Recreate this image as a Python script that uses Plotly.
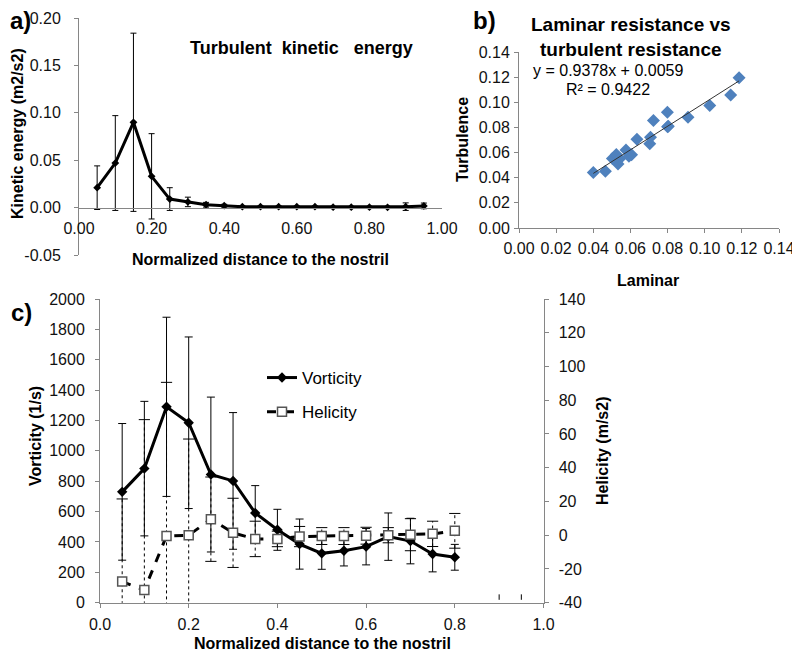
import numpy as np
import plotly.graph_objects as go

# ---------------- data ----------------
# panel a: turbulent kinetic energy
ke_x = [0.05, 0.10, 0.15, 0.20, 0.25, 0.30, 0.35, 0.40, 0.45, 0.50,
        0.55, 0.60, 0.65, 0.70, 0.75, 0.80, 0.85, 0.90, 0.95]
ke_val = [0.021, 0.047, 0.090, 0.033, 0.009, 0.006, 0.003, 0.002, 0.001, 0.001,
          0.001, 0.001, 0.001, 0.0005, 0.0005, 0.0005, 0.0003, 0.001, 0.0018]
ke_err = [0.023, 0.050, 0.094, 0.045, 0.012, 0.005, 0.0025, 0.0015, 0.0008, 0.0005,
          0.0005, 0.0005, 0.0005, 0.0005, 0.0005, 0.0005, 0.0005, 0.004, 0.003]
ke_yticks = [-0.05, 0.00, 0.05, 0.10, 0.15, 0.20]
ke_yticktext = ["-0.05", "0.00", "0.05", "0.10", "0.15", "0.20"]

# panel b: laminar vs turbulent resistance
lam = [0.0400, 0.0465, 0.0503, 0.0524, 0.0533, 0.0542, 0.0576, 0.0592, 0.0606, 0.0635,
       0.0704, 0.0708, 0.0724, 0.0799, 0.0800, 0.0804, 0.0910, 0.1027, 0.1140, 0.1185]
turb = [0.0442, 0.0452, 0.0553, 0.0585, 0.0510, 0.0550, 0.0620, 0.0570, 0.0583, 0.0706,
        0.0670, 0.0722, 0.0855, 0.0921, 0.0806, 0.0810, 0.0880, 0.0975, 0.1057, 0.1195]
fit_slope = 0.9378
fit_intercept = 0.0059
fit_r2 = 0.9422

# panel c: vorticity and helicity
vh_x = [0.05, 0.10, 0.15, 0.20, 0.25, 0.30, 0.35, 0.40,
        0.45, 0.50, 0.55, 0.60, 0.65, 0.70, 0.75, 0.80]
vort = [730, 883, 1290, 1185, 844, 802, 591, 480,
        386, 325, 342, 369, 435, 406, 321, 299]
vort_err = [450, 443, 590, 565, 510, 450, 180, 135,
            165, 105, 100, 120, 156, 150, 118, 85]
heli = [-27.5, -32.5, -0.4, 0.0, 9.5, 1.4, -2.2, -2.2,
        -0.8, -0.5, -0.5, -0.3, 0.0, 0.3, 0.8, 2.6]
heli_err = [49, 101, 91, 57, 25, 20.5, 10.5, 4.6,
            6, 5, 5, 5, 4.5, 9.5, 7.5, 10.3]
tail_x = [0.90, 0.95]
tail_vort = [37, 37]
tail_err = [18, 18]
heli_yticks = [-40, -20, 0, 20, 40, 60, 80, 100, 120, 140]
heli_yticktext = ["-40", "-20", "0", "20", "40", "60", "80", "100", "120", "140"]

# ---------------- layout helpers ----------------
OFFX, OFFY = 8, 8            # page body margin
W, H = 800, 648
def fx(px):
    return (px - OFFX) / W
def fy(py):
    return 1 - (py - OFFY) / H

FONT = "Liberation Sans, Arial, sans-serif"
AX = "#868686"
TICKF = dict(family=FONT, size=16, color="#111")

fig = go.Figure()

# ---- panel a ----
fig.add_trace(go.Scatter(
    x=ke_x, y=ke_val, mode="lines+markers", xaxis="x", yaxis="y",
    line=dict(color="black", width=3), marker=dict(symbol="diamond", size=6, color="black"),
    error_y=dict(type="data", array=ke_err, visible=True, color="black", thickness=1, width=3),
    showlegend=False))

# ---- panel b ----
fig.add_trace(go.Scatter(
    x=lam, y=turb, mode="markers", xaxis="x2", yaxis="y2",
    marker=dict(symbol="diamond", size=10, color="#4F81BD"), showlegend=False))
fit_x = np.array([min(lam), max(lam)])
fig.add_trace(go.Scatter(
    x=fit_x, y=fit_slope * fit_x + fit_intercept, mode="lines", xaxis="x2", yaxis="y2",
    line=dict(color="#333", width=1), showlegend=False))

# ---- panel c ----
hx = np.array(vh_x)
hy = np.array(heli)
he = np.array(heli_err)
seg_x, seg_y = [], []
for xi, yi, ei in zip(hx, hy, he):
    seg_x += [xi, xi, None]
    seg_y += [yi - ei, yi + ei, None]
fig.add_trace(go.Scatter(
    x=seg_x, y=seg_y, mode="lines", xaxis="x3", yaxis="y4",
    line=dict(color="black", width=1, dash="dot"), showlegend=False, hoverinfo="skip"))
fig.add_trace(go.Scatter(
    x=np.concatenate([hx, hx]), y=np.concatenate([hy - he, hy + he]), mode="markers",
    xaxis="x3", yaxis="y4",
    marker=dict(symbol="line-ew", size=8, line=dict(color="black", width=1)),
    showlegend=False, hoverinfo="skip"))

fig.add_trace(go.Scatter(
    x=vh_x, y=vort, mode="lines+markers", name="Vorticity", xaxis="x3", yaxis="y3",
    legendgroup="v",
    line=dict(color="black", width=3), marker=dict(symbol="diamond", size=8, color="black"),
    error_y=dict(type="data", array=vort_err, visible=True, color="black", thickness=1, width=4)))
fig.add_trace(go.Scatter(
    x=tail_x, y=tail_vort, mode="markers", xaxis="x3", yaxis="y3",
    marker=dict(size=1, color="rgba(0,0,0,0)"),
    error_y=dict(type="data", array=tail_err, visible=True, color="black", thickness=1, width=0),
    showlegend=False, hoverinfo="skip"))
fig.add_trace(go.Scatter(
    x=vh_x, y=heli, mode="lines+markers", name="Helicity", xaxis="x3", yaxis="y4",
    legendgroup="h",
    line=dict(color="black", width=3, dash="dash"),
    marker=dict(symbol="square", size=9, color="white", line=dict(color="#555", width=1.5))))

# axis domains
a_x = [fx(79), fx(442)]
a_y = [fy(255), fy(18)]
a_yr = [-0.05, 0.20]
a_pos = a_y[0] + (0 - a_yr[0]) / (a_yr[1] - a_yr[0]) * (a_y[1] - a_y[0])

b_x = [fx(519), fx(779)]
b_y = [fy(228), fy(52)]

c_x = [fx(100), fx(543.5)]
c_y = [fy(602.7), fy(299)]

common = dict(showgrid=False, zeroline=False, showline=True, linecolor=AX, linewidth=1,
              tickfont=TICKF, tickcolor=AX, ticklen=4, tickangle=0, automargin=False)

fig.update_layout(
    template="none",
    width=W, height=H, margin=dict(l=0, r=0, t=0, b=0, autoexpand=False),
    paper_bgcolor="white", plot_bgcolor="white",
    font=dict(family=FONT, color="black"),
    xaxis=dict(domain=a_x, range=[0, 1.0], dtick=0.2, tick0=0, tickformat=".2f",
               anchor="free", position=a_pos, ticks="", ticklabelstandoff=6, **common),
    yaxis=dict(domain=a_y, range=a_yr, tickvals=ke_yticks, ticktext=ke_yticktext,
               anchor="x", ticks="outside", ticklabelstandoff=10, **common),
    xaxis2=dict(domain=b_x, range=[0, 0.14], dtick=0.02, tick0=0, tickformat=".2f",
                anchor="y2", ticks="outside", ticklabelstandoff=2, **common),
    yaxis2=dict(domain=b_y, range=[0, 0.14], dtick=0.02, tick0=0, tickformat=".2f",
                anchor="x2", ticks="outside", ticklabelstandoff=1, **common),
    xaxis3=dict(domain=c_x, range=[0, 1.0], dtick=0.2, tick0=0, tickformat=".1f",
                anchor="y3", ticks="outside", ticklabelstandoff=3, **common),
    yaxis3=dict(domain=c_y, range=[0, 2000], dtick=200, tick0=0, tickformat="d",
                anchor="x3", ticks="outside", ticklabelstandoff=7, **common),
    yaxis4=dict(domain=c_y, range=[-40, 140], tickvals=heli_yticks, ticktext=heli_yticktext,
                overlaying="y3", side="right", anchor="x3", ticks="outside",
                ticklabelstandoff=7, **common),
    legend=dict(x=fx(262), y=fy(360), xanchor="left", yanchor="top",
                bgcolor="rgba(0,0,0,0)", font=dict(family=FONT, size=17, color="black"),
                tracegroupgap=9, itemwidth=30, traceorder="grouped"),
)

def ann(text, x, y, size=16, bold=True, angle=0):
    fig.add_annotation(
        text=f"<b>{text}</b>" if bold else text, x=fx(x), y=fy(y), xref="paper", yref="paper",
        showarrow=False, textangle=angle, xanchor="center", yanchor="middle",
        font=dict(family=FONT, size=size, color="black"))

# panel labels
ann("a)", 20, 21, size=24)
ann("b)", 484, 21, size=24)
ann("c)", 21, 312, size=24)

# titles
ann("Turbulent\u00a0 kinetic\u00a0\u00a0 energy", 301, 48, size=18)
ann("Laminar resistance vs<br>turbulent resistance", 631, 37, size=19)
ann(f"y = {fit_slope}x + {fit_intercept}", 608, 71, size=16, bold=False)
ann(f"R² = {fit_r2}", 608, 89, size=16, bold=False)

# axis titles
ann("Kinetic energy (m2/s2)", 18, 134, size=16, angle=-90)
ann("Normalized distance to the nostril", 260, 260, size=16)
ann("Turbulence", 462, 140, size=16, angle=-90)
ann("Laminar", 648, 280, size=16)
ann("Vorticity (1/s)", 35, 436, size=16, angle=-90)
ann("Normalized distance to the nostril", 322, 643, size=16)
ann("Helicity (m/s2)", 602, 451, size=16, angle=-90)

fig.write_html("out.html")
